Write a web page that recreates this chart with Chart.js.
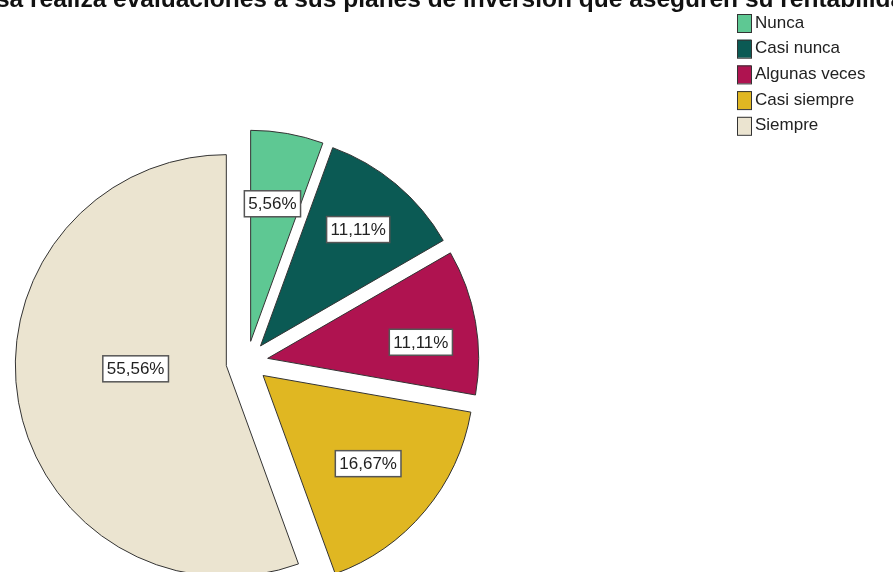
<!DOCTYPE html>
<html>
<head>
<meta charset="utf-8">
<script src="https://cdn.jsdelivr.net/npm/chart.js@4/dist/chart.umd.min.js"></script>
<style>
    body { margin: 0; background: #fff; }
    canvas { display: block; }
</style>
</head>
<body>
<canvas id="pieChart" width="893" height="572"></canvas>
<script>
// data
const categories = ['Nunca', 'Casi nunca', 'Algunas veces', 'Casi siempre', 'Siempre'];
const percentages = [5.56, 11.11, 11.11, 16.67, 55.56];
const sliceColors = ['#5ec893', '#0b5a54', '#af1350', '#e0b722', '#ebe4d0'];
const titleText = '¿Su empresa realiza evaluaciones a sus planes de inversión que aseguren su rentabilidad?';

// label placement (fraction of radius along the slice bisector, small angle shift in degrees)
const labelDist = [0.66, 0.72, 0.73, 0.65, 0.43];
const labelShift = [-1, 0, 4, 0, 8];

const explode = 21; // px every slice is pulled out along its bisector

function fmt(v) {
    return v.toFixed(2).replace('.', ',') + '%';
}

// pull slices out from the centre (same look as the SPSS exploded pie)
const explodeSlices = {
    id: 'explodeSlices',
    beforeDatasetsDraw(chart) {
        const area = chart.chartArea;
        const cx = (area.left + area.right) / 2;
        const cy = (area.top + area.bottom) / 2;
        chart.getDatasetMeta(0).data.forEach(arc => {
            const mid = (arc.startAngle + arc.endAngle) / 2;
            arc.x = cx + Math.cos(mid) * explode;
            arc.y = cy + Math.sin(mid) * explode;
        });
    }
};

const sliceLabels = {
    id: 'sliceLabels',
    afterDatasetsDraw(chart) {
        const ctx = chart.ctx;
        const meta = chart.getDatasetMeta(0);
        ctx.save();
        ctx.font = '17px Arial';
        ctx.textAlign = 'center';
        ctx.textBaseline = 'middle';
        meta.data.forEach((arc, i) => {
            const mid = (arc.startAngle + arc.endAngle) / 2;
            const a = mid + labelShift[i] * Math.PI / 180;
            const x = arc.x + Math.cos(a) * labelDist[i] * arc.outerRadius;
            const y = arc.y + Math.sin(a) * labelDist[i] * arc.outerRadius;
            const txt = fmt(percentages[i]);
            const w = ctx.measureText(txt).width + 8;
            const h = 26;
            ctx.fillStyle = '#fff';
            ctx.fillRect(x - w / 2, y - h / 2, w, h);
            ctx.strokeStyle = '#555';
            ctx.lineWidth = 1.5;
            ctx.strokeRect(x - w / 2, y - h / 2, w, h);
            ctx.fillStyle = '#222';
            ctx.fillText(txt, x, y + 1);
        });
        ctx.restore();
    }
};

const titleAndLegend = {
    id: 'titleAndLegend',
    afterDraw(chart) {
        const ctx = chart.ctx;
        ctx.save();
        // title, cut off at the top of the picture like the original
        ctx.font = 'bold 24.5px Arial';
        ctx.fillStyle = '#111';
        ctx.textBaseline = 'alphabetic';
        ctx.textAlign = 'left';
        const x0 = 30 - ctx.measureText('¿Su empresa ').width;
        ctx.fillText(titleText, x0, 7);

        // legend
        ctx.font = '17px Arial';
        ctx.textBaseline = 'middle';
        categories.forEach((name, i) => {
            const y = 14 + i * 25.7;
            ctx.fillStyle = sliceColors[i];
            ctx.fillRect(737, y, 14, 18);
            ctx.strokeStyle = '#333';
            ctx.lineWidth = 1;
            ctx.strokeRect(737.5, y + 0.5, 14, 18);
            ctx.fillStyle = '#222';
            ctx.fillText(name, 755, y + 9);
        });
        ctx.restore();
    }
};

new Chart(document.getElementById('pieChart'), {
    type: 'pie',
    data: {
        labels: categories,
        datasets: [{
            data: percentages,
            backgroundColor: sliceColors,
            borderColor: '#333',
            borderWidth: 1
        }]
    },
    options: {
        responsive: false,
        animation: false,
        events: [],
        radius: 211,
        layout: { padding: { left: 0, top: 152, right: 399, bottom: 0 } },
        plugins: {
            legend: { display: false },
            tooltip: { enabled: false }
        }
    },
    plugins: [explodeSlices, sliceLabels, titleAndLegend]
});
</script>
</body>
</html>
